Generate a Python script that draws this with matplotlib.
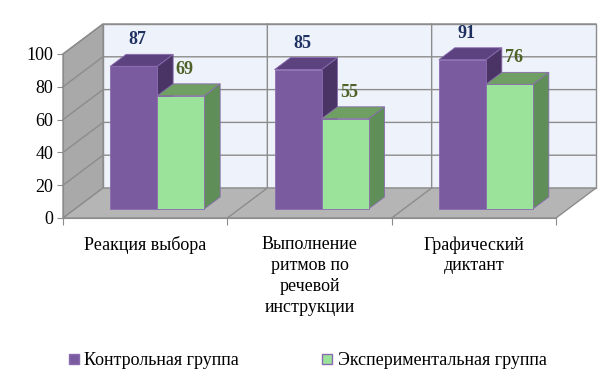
import numpy as np
import matplotlib
matplotlib.use('Agg')
import matplotlib.pyplot as plt
from matplotlib.patches import Polygon, Patch

plt.rcParams['font.family'] = 'serif'
plt.rcParams['font.serif'] = ['Liberation Serif', 'DejaVu Serif']
plt.rcParams['font.size'] = 13

# Data
categories = ['Реакция выбора', 'Выполнение\nритмов по\nречевой\nинструкции', 'Графический\nдиктант']
control = [87, 85, 91]
experimental = [69, 55, 76]
series_names = ['Контрольная группа', 'Экспериментальная группа']
yticks = [0, 20, 40, 60, 80, 100]

# colours: front, top, side
purple = ('#7b5b9f', '#5c4380', '#4a3466')
green = ('#9be39a', '#6f9f63', '#5f8e58')
label_colors = ['#1f3160', '#4f6228']

W, H = 607, 386
fig = plt.figure(figsize=(W / 100, H / 100), dpi=100)
# front plane of the 3D box (pixels): x 63..556, y(0)=218, y(100)=54
ax = fig.add_axes([63 / W, (H - 218) / H, (556 - 63) / W, (218 - 54) / H])
ax.set_xlim(0, 3)
ax.set_ylim(0, 100)

# depth offset of the box in data units
Dx = 40 / ((556 - 63) / 3)
Dy = 30 / ((218 - 54) / 100)
grid_c = '#8c8c8c'

def poly(pts, fc, ec='none', lw=0.0, z=1):
    ax.add_patch(Polygon(pts, closed=True, facecolor=fc, edgecolor=ec,
                         linewidth=lw, zorder=z, clip_on=False))

# walls and floor
poly([(Dx, Dy), (3 + Dx, Dy), (3 + Dx, 100 + Dy), (Dx, 100 + Dy)], '#eef2fa', grid_c, 1.0)
poly([(0, 0), (0, 100), (Dx, 100 + Dy), (Dx, Dy)], '#a9a9a9', grid_c, 1.0)
poly([(0, 0), (3, 0), (3 + Dx, Dy), (Dx, Dy)], '#b5b5b5', grid_c, 1.0)

for v in yticks[1:]:
    ax.plot([0, Dx, 3 + Dx], [v, v + Dy, v + Dy], color=grid_c, lw=1.0, zorder=2, clip_on=False)
for c in range(1, 3):
    ax.plot([c, c + Dx, c + Dx], [0, Dy, 100 + Dy], color=grid_c, lw=1.0, zorder=2, clip_on=False)

# bars
f0 = 0.3          # depth position of the bar fronts
bd = 0.4          # bar depth
bw = 47 / ((556 - 63) / 3)
base = f0 * Dy
x = np.arange(len(categories)) + 0.5 + f0 * Dx
bdx, bdy = bd * Dx, bd * Dy

for i in range(len(categories)):
    for j, (vals, col) in enumerate([(control, purple), (experimental, green)]):
        v = vals[i]
        x0 = x[i] - bw + j * bw
        x1 = x0 + bw
        edge = '#8a6bb0'
        poly([(x1, base), (x1, base + v), (x1 + bdx, base + v + bdy), (x1 + bdx, base + bdy)],
             col[2], edge, 0.6, 3)
        poly([(x0, base + v), (x1, base + v), (x1 + bdx, base + v + bdy), (x0 + bdx, base + v + bdy)],
             col[1], edge, 0.6, 3)
        ax.bar(x0, v, width=bw, bottom=base, align='edge', color=col[0],
               edgecolor=edge, linewidth=0.6, zorder=3, clip_on=False)
        ax.annotate(str(v), (x0 + bw / 2, base + v), xytext=(3, 19), textcoords='offset points',
                    ha='center', va='center', fontweight='bold', color=label_colors[j],
                    annotation_clip=False, zorder=5)

# axes styling
for s in ['top', 'right']:
    ax.spines[s].set_visible(False)
for s in ['left', 'bottom']:
    ax.spines[s].set_color(grid_c)
    ax.spines[s].set_zorder(4)
ax.set_facecolor('none')
ax.set_yticks(yticks)
ax.tick_params(axis='y', length=4, color=grid_c, pad=3)
ax.set_xticks([0, 1, 2, 3])
ax.set_xticklabels([])
ax.tick_params(axis='x', length=5, color=grid_c)
ax.set_xticks(np.arange(len(categories)) + 0.5, minor=True)
ax.set_xticklabels(categories, minor=True, linespacing=1.3, va='top')
ax.tick_params(axis='x', which='minor', length=0, pad=13)

handles = [Patch(facecolor=purple[0], edgecolor='#8a6bb0'), Patch(facecolor=green[0], edgecolor='#8a6bb0')]
fig.legend(handles, series_names, loc='center', bbox_to_anchor=(0.507, 0.065), ncol=2,
           frameon=False, handlelength=0.55, handleheight=0.55, handletextpad=0.3,
           columnspacing=4.6, borderpad=0)

fig.savefig('out.png', dpi=100)
